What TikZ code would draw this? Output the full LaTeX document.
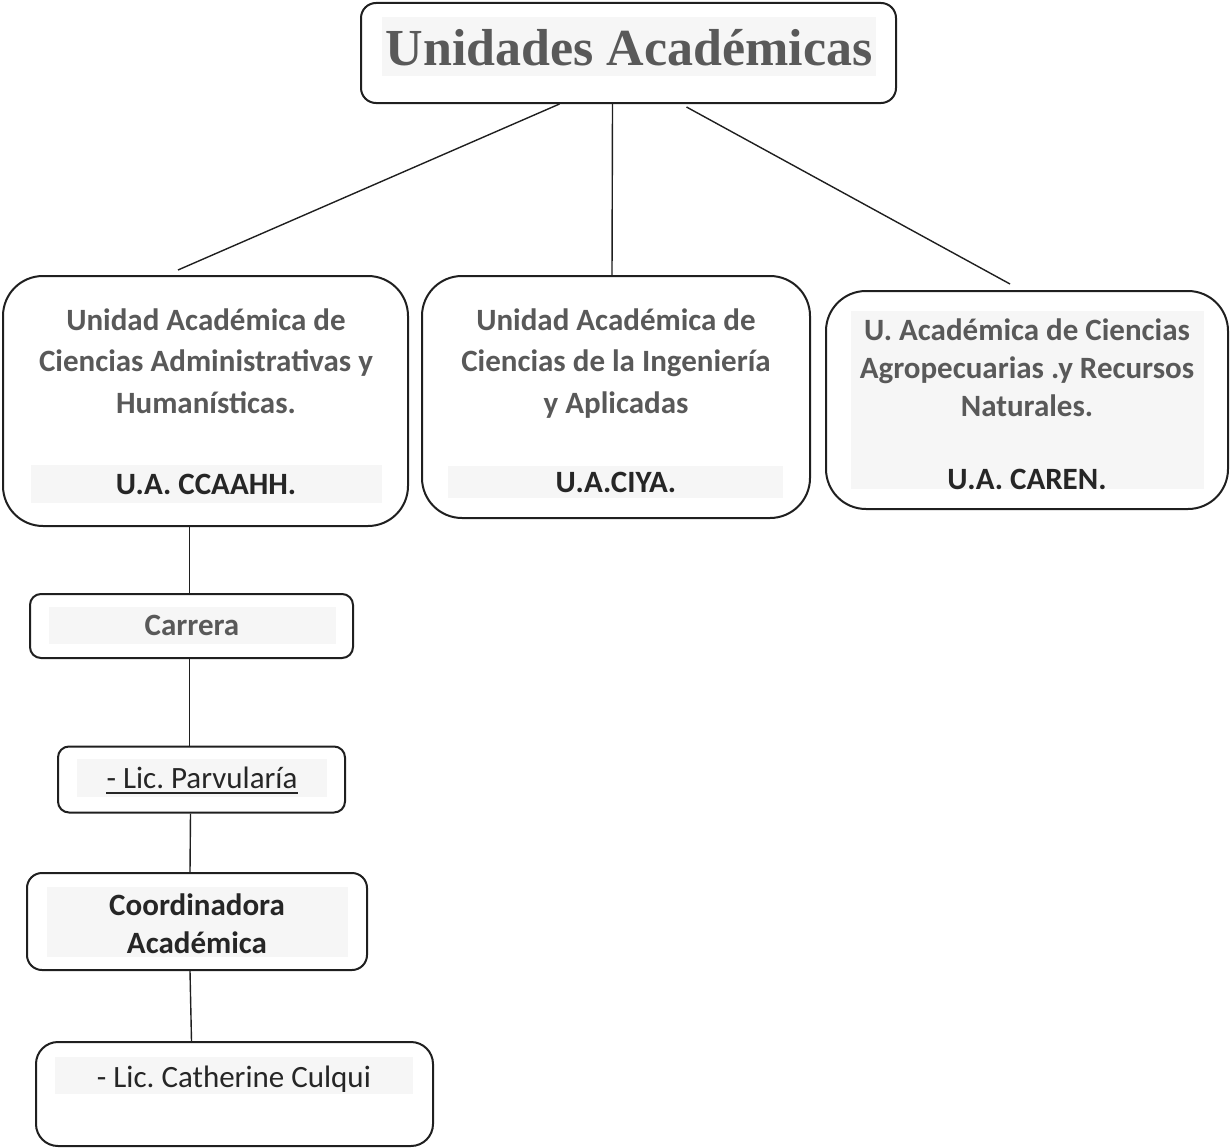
\documentclass[tikz,border=0pt]{standalone}
\usepackage{fontspec}
\setmainfont{Carlito}
\newfontfamily\titlefont{Liberation Serif}
\usepackage{xcolor}
\usetikzlibrary{positioning}

\definecolor{txtgray}{HTML}{595959}
\definecolor{txtdark}{HTML}{262626}
\definecolor{shade}{HTML}{F6F6F6}
\definecolor{edge}{HTML}{1F1F1F}

\begin{document}
\frenchspacing
\begin{tikzpicture}[x=1pt, y=-1pt,
box/.style={draw=edge, line width=2pt, inner sep=0pt},
unit/.style={box, rounded corners=40pt},
lbl/.style={anchor=base, inner sep=0pt, font=\fontsize{31}{36}\selectfont\bfseries, text=txtgray},
darklbl/.style={lbl, text=txtdark},
reglbl/.style={anchor=base, inner sep=0pt, font=\fontsize{31}{36}\selectfont, text=txtdark},
shd/.style={fill=shade},
link/.style={line width=1.4pt, draw=edge}
]
\useasboundingbox (0,0) rectangle (1231,1148);

% shading behind the texts
\fill[shd] (382,17) rectangle (876,76);
\fill[shd] (31,465) rectangle (382,503);
\fill[shd] (448,466) rectangle (783,498);
\fill[shd] (851,311) rectangle (1204,489);
\fill[shd] (49,607) rectangle (336,644);
\fill[shd] (77,759) rectangle (327,797);
\fill[shd] (47,887) rectangle (348,957);
\fill[shd] (55,1057) rectangle (413,1094);

% boxes
\node[box, rounded corners=15pt, minimum width=535pt, minimum height=100pt] (tit) at (628.5,53) {};
\node[unit, minimum width=405pt, minimum height=250pt] (ccaahh) at (205.5,401) {};
\node[unit, minimum width=388pt, minimum height=242pt] (ciya) at (616,397) {};
\node[unit, minimum width=402pt, minimum height=218pt] (caren) at (1027,400) {};
\node[box, rounded corners=11pt, minimum width=323pt, minimum height=64pt] (carrera) at (191.5,626) {};
\node[box, rounded corners=11pt, minimum width=287pt, minimum height=66pt] (parv) at (201.5,779.5) {};
\node[box, rounded corners=15pt, minimum width=340pt, minimum height=97pt] (coord) at (197,921.5) {};
\node[box, rounded corners=22pt, minimum width=397pt, minimum height=104pt] (cath) at (234.5,1094) {};

% texts
\node[anchor=base, inner sep=0pt, font=\titlefont\fontsize{52}{60}\selectfont\bfseries, text=txtgray] (tittxt) at (629,66) {Unidades Académicas};

\node[lbl] (a1) at (206,330) {Unidad Académica de};
\node[lbl] (a2) at (206,371) {Ciencias Administrativas y};
\node[lbl] (a3) at (206,413) {Humanísticas.};
\node[darklbl] (a4) at (206,494) {U.A. CCAAHH.};

\node[lbl] (b1) at (616,330) {Unidad Académica de};
\node[lbl] (b2) at (616,371) {Ciencias de la Ingeniería};
\node[lbl] (b3) at (616,413) {y Aplicadas};
\node[darklbl] (b4) at (616,492) {U.A.CIYA.};

\node[lbl] (c1) at (1027,340) {U. Académica de Ciencias};
\node[lbl] (c2) at (1027,378) {Agropecuarias .y Recursos};
\node[lbl] (c3) at (1027,416) {Naturales.};
\node[darklbl] (c4) at (1027,489) {U.A. CAREN.};

\node[lbl] (carreratxt) at (192,635) {Carrera};
\node[reglbl] (parvtxt) at (202,788) {- Lic. Parvularía};
\draw[line width=1.8pt, txtdark] ([yshift=-5pt]parvtxt.base west) -- ([yshift=-5pt]parvtxt.base east);
\node[darklbl] (d1) at (197,915) {Coordinadora};
\node[darklbl] (d2) at (197,953) {Académica};
\node[reglbl] (cathtxt) at (234,1087) {- Lic. Catherine Culqui};

% connectors
\coordinate (lftend) at (178,270);
\coordinate (rgtend) at (1010,284);
\draw[link] ([xshift=-69pt]tit.south) -- (lftend);
\draw[link] ([xshift=-16pt]tit.south) -- ([xshift=-4pt]ciya.north);
\draw[link] ([xshift=58pt, yshift=-3pt]tit.south) -- (rgtend);
\draw[link] ([xshift=-16pt]ccaahh.south) -- ([xshift=-2pt]carrera.north);
\draw[link] ([xshift=-2pt]carrera.south) -- ([xshift=-12pt]parv.north);
\draw[link] ([xshift=-11pt]parv.south) -- ([xshift=-7pt]coord.north);
\draw[link] ([xshift=-7pt]coord.south) -- ([xshift=-43pt]cath.north);
\end{tikzpicture}
\end{document}
